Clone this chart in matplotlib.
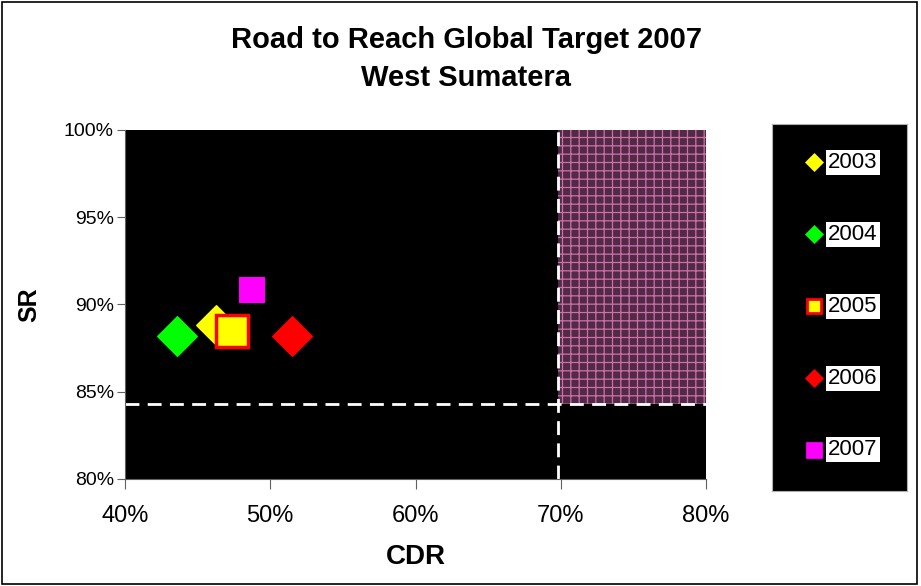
import matplotlib
matplotlib.use("Agg")
import matplotlib.pyplot as plt
import matplotlib.ticker as ticker
from matplotlib.patches import Rectangle

plt.rcParams['font.family'] = ['Liberation Sans', 'DejaVu Sans']
plt.rcParams['hatch.linewidth'] = 0.9

# data (CDR %, SR %)
years = ["2003", "2004", "2005", "2006", "2007"]
cdr = [46.3, 43.6, 47.4, 51.5, 48.7]
sr = [88.8, 88.2, 88.5, 88.2, 90.9]
markers = ["D", "D", "s", "D", "s"]
faces = ["#ffff00", "#00ff00", "#ffff00", "#ff0000", "#ff00ff"]
edges = ["#ffff00", "#00ff00", "#ff0000", "#ff0000", "#ff00ff"]
sizes = [20, 20, 23, 20, 18]
legend_sizes = [9, 9, 10, 9, 11]

target_cdr = 69.8
target_sr = 84.3
title_lines = ["Road to Reach Global Target 2007", "West Sumatera"]


def main():
    fig = plt.figure(figsize=(9.21, 5.86), dpi=100)
    fig.patch.set_facecolor("white")
    fig.patches.append(Rectangle((0.002, 0.004), 0.994, 0.993,
                                 transform=fig.transFigure, fill=False,
                                 edgecolor="black", linewidth=1.2))

    ax = fig.add_axes([0.1357, 0.1826, 0.6309, 0.5956])
    ax.set_facecolor("black")
    ax.set_xlim(40, 80)
    ax.set_ylim(80, 100)

    # target zone
    ax.add_patch(Rectangle((target_cdr, target_sr), 80 - target_cdr,
                           100 - target_sr, facecolor="#502a46",
                           edgecolor="#d070a8", hatch="++", linewidth=0,
                           zorder=1))
    ax.axvline(target_cdr, color="white", linestyle=(0, (5, 3)),
               linewidth=2, zorder=2)
    ax.axhline(target_sr, color="white", linestyle=(0, (5, 3)),
               linewidth=2, zorder=2)

    for i in range(len(years)):
        mew = 2.5 if years[i] == "2005" else 0.8
        ax.plot(cdr[i], sr[i], marker=markers[i], markersize=sizes[i],
                markerfacecolor=faces[i], markeredgecolor=edges[i],
                markeredgewidth=mew, linestyle="none", zorder=3)

    ax.xaxis.set_major_locator(ticker.MultipleLocator(10))
    ax.yaxis.set_major_locator(ticker.MultipleLocator(5))
    ax.xaxis.set_major_formatter(ticker.FuncFormatter(
        lambda x, pos: f"{int(x)}%"))
    ax.yaxis.set_major_formatter(ticker.FuncFormatter(
        lambda x, pos: f"{int(x)}%"))
    ax.tick_params(axis="x", labelsize=17, length=7, color="#606060",
                   pad=12)
    ax.tick_params(axis="y", labelsize=14, length=6, color="#606060",
                   pad=2)
    for s in ["top", "right"]:
        ax.spines[s].set_visible(False)
    for s in ["left", "bottom"]:
        ax.spines[s].set_color("#606060")

    ax.set_xlabel("CDR", fontsize=20, fontweight="bold", labelpad=12)
    ax.set_ylabel("SR", fontsize=18, fontweight="bold", labelpad=16)

    fig.text(0.506, 0.932, title_lines[0], ha="center", va="center",
             fontsize=21, fontweight="bold")
    fig.text(0.506, 0.867, title_lines[1], ha="center", va="center",
             fontsize=21, fontweight="bold")

    # legend box
    lax = fig.add_axes([772 / 921, 1 - 491 / 586, 135 / 921, 367 / 586])
    lax.set_facecolor("black")
    lax.set_xlim(0, 1)
    lax.set_ylim(4.57, -0.53)
    lax.set_xticks([])
    lax.set_yticks([])
    for s in lax.spines.values():
        s.set_color("#b0b0b0")
        s.set_linewidth(0.8)
    for i in range(len(years)):
        mew = 2.0 if years[i] == "2005" else 0.5
        lax.plot(0.311, i, marker=markers[i], markersize=legend_sizes[i],
                 markerfacecolor=faces[i], markeredgecolor=edges[i],
                 markeredgewidth=mew, linestyle="none")
        lax.text(0.415, i, years[i], ha="left", va="center", fontsize=16,
                 color="black",
                 bbox=dict(facecolor="white", edgecolor="none", pad=1.5))

    fig.savefig("out.png", dpi=100)


if __name__ == "__main__":
    main()
